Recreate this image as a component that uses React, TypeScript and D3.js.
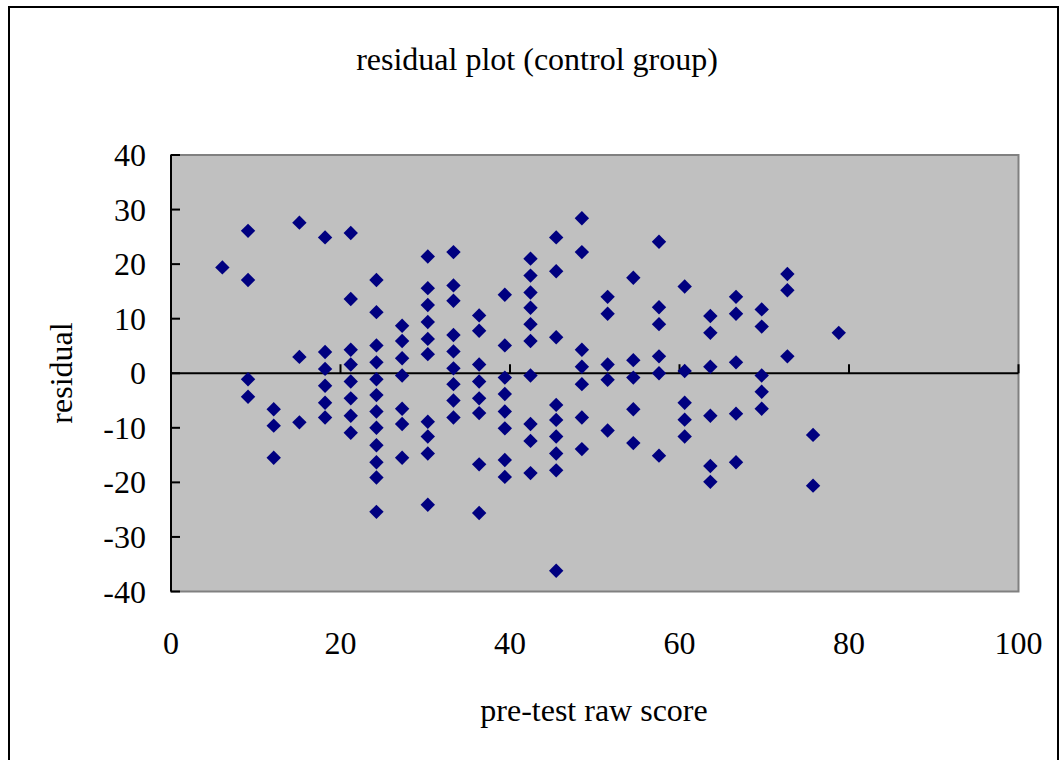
import React from "react";
import * as d3 from "d3";

const title = "residual plot (control group)";
const xLabel = "pre-test raw score";
const yLabel = "residual";
const xTicks = [0, 20, 40, 60, 80, 100];
const yTicks = [40, 30, 20, 10, 0, -10, -20, -30, -40];

// pre-test raw score columns and residuals
const xs = [6.06, 9.09, 12.12, 15.15, 18.18, 21.21, 24.24, 27.27, 30.3, 33.33, 36.36, 39.39, 42.42, 45.45, 48.48, 51.52, 54.55, 57.58, 60.61, 63.64, 66.67, 69.7, 72.73, 75.76, 78.79];
const residuals: number[][] = [
  [19.4],
  [26.1, 17.1, -1.1, -4.3],
  [-6.6, -9.6, -15.5],
  [27.6, 3.0, -9.0],
  [24.9, 3.9, 0.8, -2.3, -5.4, -8.1],
  [25.7, 13.6, 4.3, 1.6, -1.5, -4.6, -7.8, -10.9],
  [17.1, 11.2, 5.1, 2.0, -1.1, -4.0, -7.0, -10.0, -13.2, -16.3, -19.1, -25.4],
  [8.7, 5.9, 2.75, -0.4, -6.5, -9.3, -15.5],
  [21.4, 15.6, 12.5, 9.4, 6.3, 3.5, -8.9, -11.6, -14.7, -24.1],
  [22.2, 16.1, 13.3, 7.0, 4.0, 0.9, -2.0, -5.0, -8.1],
  [10.6, 7.8, 1.6, -1.5, -4.6, -7.3, -16.7, -25.6],
  [14.4, 5.1, -0.8, -3.8, -7.0, -10.1, -15.9, -19.0],
  [21.0, 17.9, 14.8, 12.0, 9.0, 5.9, -0.4, -9.3, -12.4, -18.3],
  [24.9, 18.7, 6.6, -5.8, -8.55, -11.6, -14.7, -17.8, -36.2],
  [28.4, 22.2, 4.3, 1.2, -2.0, -8.1, -13.9],
  [14.0, 10.9, 1.6, -1.2, -10.5],
  [17.5, 2.4, -0.8, -6.6, -12.8],
  [24.1, 12.1, 9.0, 3.1, 0.0, -15.1],
  [15.9, 0.4, -5.4, -8.5, -11.6],
  [10.5, 7.4, 1.2, -7.8, -17.0, -19.9],
  [14.0, 10.9, 2.0, -7.4, -16.3],
  [11.7, 8.55, -0.4, -3.4, -6.5],
  [18.2, 15.2, 3.1],
  [-11.3, -20.6],
  [7.4],
];

const W = 1060;
const H = 760;
const L = 171, R = 1018.5, T = 155, B = 591.5;
const FONT = "'Liberation Serif', 'DejaVu Serif', serif";
const FS = 32;

export default function App() {
  const x = d3.scaleLinear().domain([0, 100]).range([L, R]);
  const y = d3.scaleLinear().domain([-40, 40]).range([B, T]);
  const pts: { x: number; y: number }[] = [];
  xs.forEach((xv, i) => residuals[i].forEach((r) => pts.push({ x: xv, y: r })));
  const s = 7.2;
  const dpath = `M0,${-s}L${s},0L0,${s}L${-s},0Z`;
  return (
    <svg width={W} height={H} style={{ position: "absolute", left: 0, top: 0, background: "#fff" }} fontFamily={FONT}>
      <rect x={9} y={7} width={1049} height={780} fill="#fff" stroke="#000" strokeWidth={2} />
      <text x={537} y={70} textAnchor="middle" fontSize={FS} fill="#000">{title}</text>
      <rect x={L} y={T} width={R - L} height={B - T} fill="#c0c0c0" stroke="#808080" strokeWidth={2} />
      <line x1={L} x2={L} y1={T} y2={B} stroke="#000" strokeWidth={2} />
      {yTicks.map((t) => (
        <g key={"y" + t}>
          <line x1={L} x2={L + 9} y1={y(t)} y2={y(t)} stroke="#000" strokeWidth={2} />
          <text x={146} y={y(t) + 11} textAnchor="end" fontSize={FS} fill="#000">{t}</text>
        </g>
      ))}
      <line x1={L} x2={R} y1={y(0)} y2={y(0)} stroke="#000" strokeWidth={2} />
      {xTicks.slice(1).map((t) => (
        <line key={"xt" + t} x1={x(t)} x2={x(t)} y1={y(0)} y2={y(0) - 9} stroke="#000" strokeWidth={2} />
      ))}
      {xTicks.map((t) => (
        <text key={"x" + t} x={x(t)} y={654} textAnchor="middle" fontSize={FS} fill="#000">{t}</text>
      ))}
      <text x={594} y={721} textAnchor="middle" fontSize={FS} fill="#000">{xLabel}</text>
      <text transform={`translate(72, 373) rotate(-90)`} textAnchor="middle" fontSize={FS} fill="#000">{yLabel}</text>
      {pts.map((p, i) => (
        <path key={i} d={dpath} transform={`translate(${x(p.x)},${y(p.y)})`} fill="#000080" />
      ))}
    </svg>
  );
}
